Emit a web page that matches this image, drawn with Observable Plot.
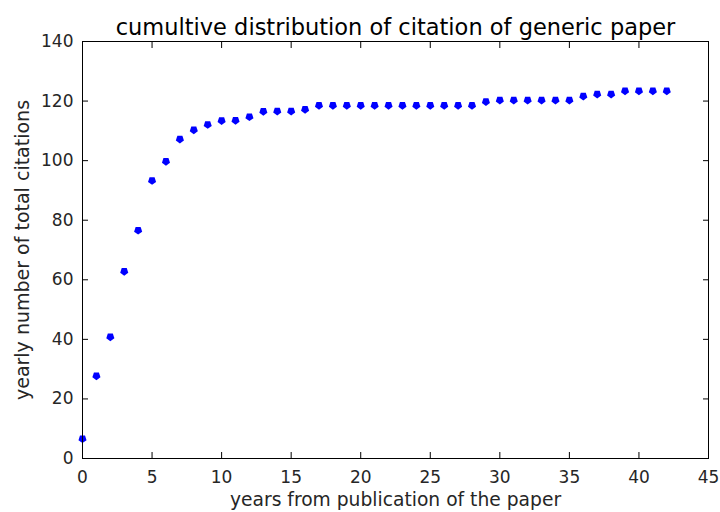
<!DOCTYPE html>
<html>
<head>
<meta charset="utf-8">
<script src="https://cdn.jsdelivr.net/npm/d3@7"></script>
<script src="https://cdn.jsdelivr.net/npm/@observablehq/plot@0.6"></script>
<style>
  html, body { margin: 0; padding: 0; background: #fff; }
  svg { display: block; }
</style>
</head>
<body>
<div id="chart"></div>
<script>
const years = [0,1,2,3,4,5,6,7,8,9,10,11,12,13,14,15,16,17,18,19,20,21,22,23,24,25,26,27,28,29,30,31,32,33,34,35,36,37,38,39,40,41,42];
const citations = [6.6,27.7,40.8,62.8,76.6,93.3,99.7,107.2,110.3,112.1,113.4,113.5,114.7,116.5,116.6,116.6,117.2,118.5,118.5,118.5,118.5,118.5,118.5,118.5,118.5,118.5,118.5,118.5,118.5,119.8,120.3,120.3,120.3,120.3,120.3,120.3,121.6,122.3,122.3,123.4,123.4,123.4,123.4];
const xTicks = [0,5,10,15,20,25,30,35,40,45];
const yTicks = [0,20,40,60,80,100,120,140];
const titleText = "cumultive distribution of citation of generic paper";
const xLabel = "years from publication of the paper";
const yLabel = "yearly number of total citations";

const data = years.map((y, i) => ({year: y, total: citations[i]}));

const pentagon = {
  draw(context, size) {
    const r = Math.sqrt(size) * 0.75;
    for (let i = 0; i < 5; i++) {
      const a = Math.PI / 2 + i * 2 * Math.PI / 5;
      const px = r * Math.cos(a), py = r * Math.sin(a);
      if (i === 0) context.moveTo(px, py); else context.lineTo(px, py);
    }
    context.closePath();
  }
};

const font = "DejaVu Sans, sans-serif";
const plot = Plot.plot({
  width: 720,
  height: 512,
  marginLeft: 82,
  marginRight: 12,
  marginTop: 41,
  marginBottom: 54,
  style: {fontFamily: font, fontSize: "17px", color: "#262626", background: "#fff"},
  x: {domain: [0, 45], ticks: xTicks},
  y: {domain: [0, 140], ticks: yTicks},
  marks: [
    Plot.axisX({ticks: xTicks, tickSize: -6, tickPadding: 18, label: null, fontSize: 17, stroke: "#000"}),
    Plot.axisX({anchor: "top", ticks: xTicks, tickSize: -6, tickFormat: () => "", label: null, stroke: "#000"}),
    Plot.axisY({ticks: yTicks, tickSize: -6, tickPadding: 15, label: null, fontSize: 17, stroke: "#000"}),
    Plot.axisY({anchor: "right", ticks: yTicks, tickSize: -6, tickFormat: () => "", label: null, stroke: "#000"}),
    Plot.dot(data, {x: "year", y: "total", symbol: pentagon, r: 3.2, fill: "#0000ff", stroke: "none"}),
    Plot.frame({stroke: "#000", strokeWidth: 1}),
    Plot.text([titleText], {text: d => d, frameAnchor: "top", dy: -22, fontSize: 22.5, fill: "#000"}),
    Plot.text([xLabel], {text: d => d, frameAnchor: "bottom", dy: 47, fontSize: 18.7, fill: "#262626"}),
    Plot.text([yLabel], {text: d => d, frameAnchor: "left", textAnchor: "middle", dx: -60, rotate: -90, fontSize: 19, fill: "#262626"})
  ]
});
document.getElementById("chart").appendChild(plot);
</script>
</body>
</html>
